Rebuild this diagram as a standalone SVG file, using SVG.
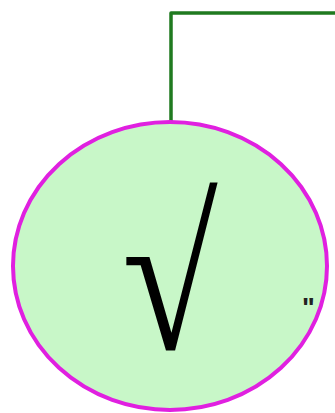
<svg xmlns="http://www.w3.org/2000/svg" width="335" height="413" viewBox="0 0 335 413">
<style>
.conn{fill:none;stroke:#1f7a1f;stroke-width:3.5;stroke-linejoin:round}
.node{fill:#c8f7c8;stroke:#e020e0;stroke-width:4}
.sym{font-family:"Liberation Serif",serif;fill:#000}
.q{font-family:"Liberation Sans",sans-serif;font-size:27px;font-weight:bold;fill:#222}
</style>
<rect width="335" height="413" fill="#fff"/>
<g id="connectors">
<path class="conn" d="M171,122 V13 H335"/>
</g>
<g id="node-sqrt">
<ellipse class="node" cx="170" cy="266" rx="157" ry="144"/>
<text class="sym" transform="translate(170,349) scale(0.97,1.17)" x="0" y="0" font-size="180" text-anchor="middle">√</text>
</g>
<g id="label">
<text class="q" x="302" y="317">"</text>
</g>
</svg>
